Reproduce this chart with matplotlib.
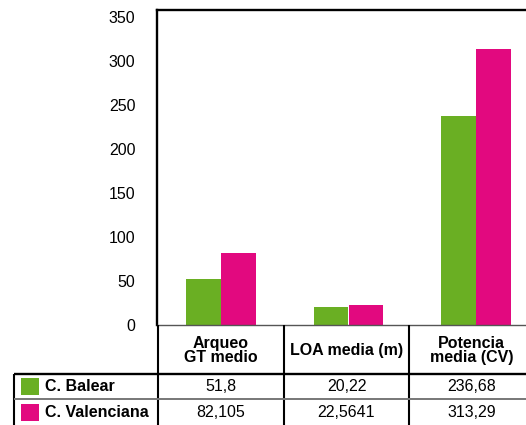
import matplotlib
matplotlib.use("Agg")
import matplotlib.pyplot as plt
import numpy as np

plt.rcParams['font.family'] = ['Liberation Sans', 'DejaVu Sans']

categories = ["Arqueo\nGT medio", "LOA media (m)", "Potencia\nmedia (CV)"]
series_names = ["C. Balear", "C. Valenciana"]
balear = [51.8, 20.22, 236.68]
valenciana = [82.105, 22.5641, 313.29]
balear_labels = ["51,8", "20,22", "236,68"]
valenciana_labels = ["82,105", "22,5641", "313,29"]
yticks = [0, 50, 100, 150, 200, 250, 300, 350]

green = "#6AAF23"
magenta = "#E2097F"

W, H = 526, 425
fig = plt.figure(figsize=(W / 100, H / 100), dpi=100)

# chart axes (pixel-based placement)
ax_l, ax_r, ax_t, ax_b = 157, 540, 10, 325
ax = fig.add_axes([ax_l / W, 1 - ax_b / H, (ax_r - ax_l) / W, (ax_b - ax_t) / H])
x = np.arange(len(categories))
bw = 0.274
ax.bar(x - bw / 2, balear, bw, color=green, label=series_names[0])
ax.bar(x + bw / 2, valenciana, bw, color=magenta, label=series_names[1])
ax.set_xlim(-0.5, len(categories) - 0.5)
ax.set_ylim(0, 357.5)
ax.set_yticks(yticks)
ax.set_yticklabels([str(v) for v in yticks], fontsize=11.5)
ax.tick_params(axis='y', length=0, pad=15.5)
ax.set_xticks([])
ax.spines['left'].set_linewidth(1.7)
ax.spines['top'].set_linewidth(1.7)
ax.spines['right'].set_visible(False)
ax.spines['bottom'].set_color('#555555')
ax.spines['bottom'].set_linewidth(1.0)

# table overlay in pixel coordinates
ov = fig.add_axes([0, 0, 1, 1])
ov.set_xlim(0, W)
ov.set_ylim(H, 0)
ov.axis('off')
ov.patch.set_alpha(0)

col_edges = [158, 284, 409, 534]
hdr_top, hdr_bot, row1_bot, tbl_bot = 325, 374, 399, 425
left_edge = 14

# vertical lines
for cx in col_edges:
    ov.plot([cx, cx], [hdr_top, tbl_bot], color='black', lw=1.5, solid_capstyle='butt')
ov.plot([left_edge, left_edge], [hdr_bot, tbl_bot], color='black', lw=1.5, solid_capstyle='butt')
# horizontal lines
ov.plot([left_edge, W], [hdr_bot, hdr_bot], color='black', lw=1.7, solid_capstyle='butt')
ov.plot([left_edge, W], [row1_bot, row1_bot], color='#777777', lw=1.4, solid_capstyle='butt')

# header text
for i, cat in enumerate(categories):
    cx = (col_edges[i] + col_edges[i + 1]) / 2
    ov.text(cx, (hdr_top + hdr_bot) / 2 + 1, cat, ha='center', va='center',
            fontsize=11.5, fontweight='bold', linespacing=0.95)

# rows
rows = [(series_names[0], green, balear_labels, (hdr_bot + row1_bot) / 2),
        (series_names[1], magenta, valenciana_labels, (row1_bot + tbl_bot) / 2 + 0.5)]
for name, col, labels, cy in rows:
    ov.add_patch(plt.Rectangle((21, cy - 8.5), 18, 17, color=col, lw=0))
    ov.text(45, cy, name, ha='left', va='center', fontsize=11.5, fontweight='bold')
    for i, lab in enumerate(labels):
        cx = (col_edges[i] + col_edges[i + 1]) / 2
        ov.text(cx, cy, lab, ha='center', va='center', fontsize=11.5)

fig.savefig("out.png", dpi=100)
